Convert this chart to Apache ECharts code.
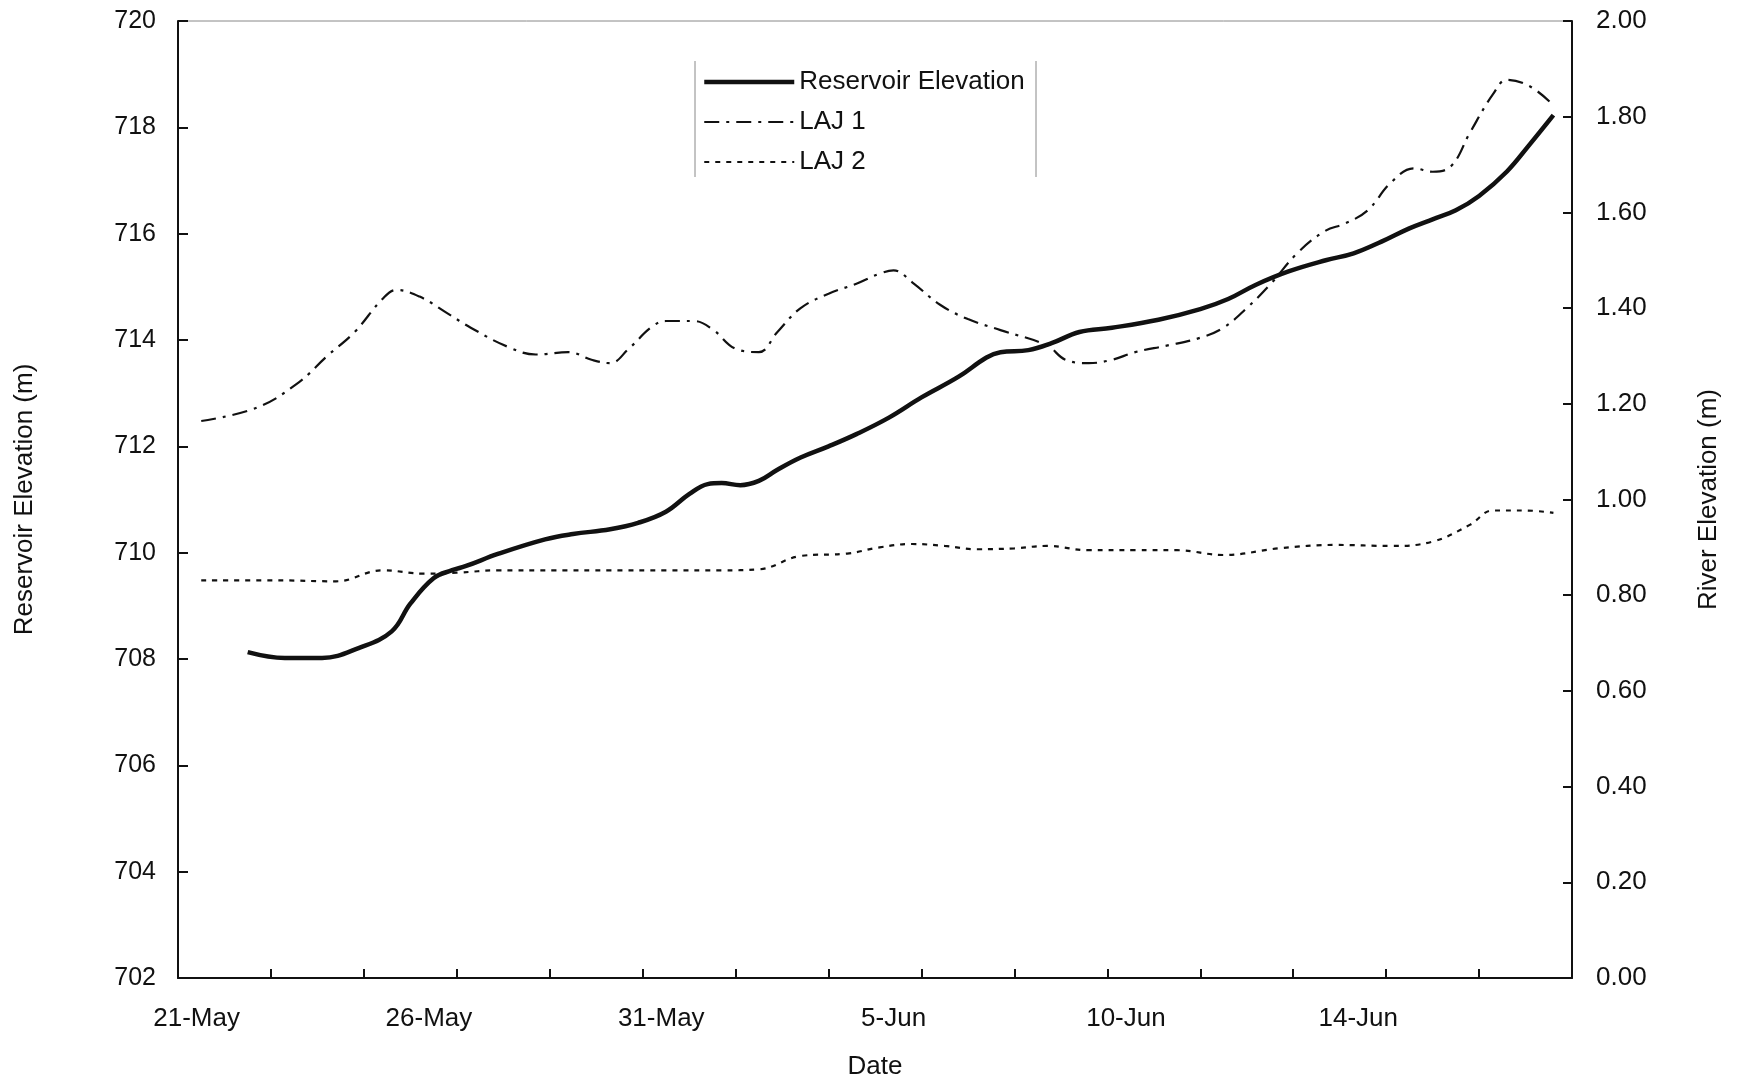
<!DOCTYPE html>
<html>
<head>
<meta charset="utf-8">
<script src="https://cdn.jsdelivr.net/npm/echarts@6/dist/echarts.min.js"></script>
<style>
  html, body { margin: 0; padding: 0; background: #fff; }
  #chart { width: 1739px; height: 1080px; }
</style>
</head>
<body>
<div id="chart"></div>
<script>
// x positions are days after 21-May (label position)
const xStart = -0.4;
const xStep = 0.1;
const xSteps = 300;

const dateLabels = ["21-May", "26-May", "31-May", "5-Jun", "10-Jun", "14-Jun"];
const dateLabelDays = [0, 5, 10, 15, 20, 25];

const resDays = [1.08, 1.87, 2.71, 3.55, 4.15, 4.63, 5.11, 5.47, 5.82, 6.54, 7.5, 8.1, 8.94, 9.54, 10.13, 10.61, 10.97, 11.33, 11.69, 12.05, 12.53, 13.0, 13.6, 14.2, 14.92, 15.64, 16.36, 16.96, 17.32, 17.91, 18.39, 18.99, 19.71, 20.67, 21.63, 22.22, 22.82, 23.54, 24.26, 24.86, 25.46, 26.05, 26.65, 27.13, 27.61, 28.21, 28.69, 29.21];
const resVals = [708.13, 708.02, 708.02, 708.21, 708.52, 709.04, 709.52, 709.67, 709.75, 709.98, 710.25, 710.35, 710.44, 710.56, 710.77, 711.1, 711.29, 711.31, 711.27, 711.35, 711.56, 711.79, 712.0, 712.23, 712.54, 712.92, 713.31, 713.67, 713.77, 713.81, 713.94, 714.15, 714.23, 714.38, 714.58, 714.77, 715.04, 715.29, 715.5, 715.63, 715.85, 716.1, 716.27, 716.44, 716.71, 717.17, 717.69, 718.23];

const laj1Days = [0.08, 1.28, 2.23, 2.83, 3.43, 4.03, 4.27, 4.75, 5.35, 5.94, 6.66, 7.26, 7.98, 8.46, 8.94, 9.3, 9.77, 10.13, 10.73, 11.09, 11.57, 12.05, 12.53, 13.0, 13.6, 14.2, 14.68, 15.04, 15.4, 16.0, 16.6, 17.32, 18.27, 18.75, 19.23, 19.71, 20.19, 20.91, 21.63, 22.1, 22.58, 23.06, 23.66, 24.26, 24.74, 25.22, 25.7, 26.17, 26.65, 27.01, 27.37, 27.85, 28.21, 28.69, 29.17];
const laj1Vals = [1.164, 1.192, 1.245, 1.299, 1.35, 1.419, 1.438, 1.424, 1.389, 1.359, 1.319, 1.303, 1.308, 1.292, 1.285, 1.315, 1.361, 1.373, 1.373, 1.356, 1.315, 1.308, 1.35, 1.4, 1.43, 1.451, 1.472, 1.479, 1.454, 1.407, 1.377, 1.354, 1.322, 1.292, 1.285, 1.292, 1.308, 1.322, 1.338, 1.359, 1.4, 1.449, 1.516, 1.562, 1.576, 1.604, 1.662, 1.692, 1.685, 1.697, 1.766, 1.847, 1.877, 1.863, 1.824];

const laj2Days = [0.08, 1.75, 2.95, 4.03, 4.87, 5.59, 6.54, 7.74, 8.94, 10.13, 11.33, 12.05, 13.0, 13.96, 14.68, 15.4, 16.12, 16.84, 17.56, 18.27, 19.23, 20.19, 21.15, 22.1, 23.3, 24.5, 25.7, 26.65, 27.37, 27.85, 28.57, 29.21];
const laj2Vals = [0.831, 0.831, 0.829, 0.852, 0.845, 0.847, 0.852, 0.852, 0.852, 0.852, 0.852, 0.854, 0.882, 0.887, 0.9, 0.907, 0.903, 0.896, 0.898, 0.903, 0.894, 0.894, 0.894, 0.884, 0.898, 0.905, 0.903, 0.912, 0.947, 0.977, 0.977, 0.972];

const cats = Array.from({ length: xSteps + 1 }, (_, i) => (xStart + i * xStep).toFixed(1));
const toIdx = (d) => Math.round((d - xStart) / xStep);
const labelIdx = dateLabelDays.map(toIdx);
const pair = (days, vals) => days.map((d, i) => [toIdx(d), vals[i]]);

const font = "Liberation Sans, Arial, Helvetica, sans-serif";
const black = "#111";
const resStyle = { color: black, width: 4.5 };
const laj1Style = { color: black, width: 2.2, type: [15, 7, 3, 7] };
const laj2Style = { color: black, width: 2.2, type: [5, 6] };

const chart = echarts.init(document.getElementById("chart"));
chart.setOption({
  backgroundColor: "#fff",
  animation: false,
  textStyle: { fontFamily: font, color: black },
  grid: {
    left: 178, right: 167, top: 21, bottom: 102,
    outerBoundsMode: "none",
    show: true, borderColor: "#888", borderWidth: 1
  },
  legend: {
    orient: "vertical",
    left: 702,
    top: 69,
    padding: 0,
    itemWidth: 90,
    itemHeight: 14,
    itemGap: 14,
    itemStyle: { color: "transparent", borderWidth: 0, opacity: 0 },
    textStyle: { fontSize: 26, color: black, fontFamily: font },
    data: [
      { name: "Reservoir Elevation", lineStyle: resStyle },
      { name: "LAJ 1", lineStyle: laj1Style },
      { name: "LAJ 2", lineStyle: laj2Style }
    ]
  },
  graphic: [
    { type: "line", shape: { x1: 695, y1: 61, x2: 695, y2: 177 }, style: { stroke: "#888", lineWidth: 1 } },
    { type: "line", shape: { x1: 1036, y1: 61, x2: 1036, y2: 177 }, style: { stroke: "#888", lineWidth: 1 } }
  ],
  xAxis: {
    type: "category",
    data: cats,
    boundaryGap: false,
    name: "Date",
    nameLocation: "middle",
    nameGap: 76,
    nameTextStyle: { fontSize: 26, color: black },
    axisLine: { lineStyle: { color: black, width: 2 } },
    axisTick: {
      inside: true, length: 9,
      interval: (i) => i % 20 === 0,
      lineStyle: { color: black, width: 2 }
    },
    axisLabel: {
      interval: (i) => labelIdx.includes(i),
      formatter: (v, i) => {
        const k = labelIdx.indexOf(i);
        return k >= 0 ? dateLabels[k] : "";
      },
      margin: 28,
      fontSize: 26,
      color: black
    },
    splitLine: { show: false }
  },
  yAxis: [
    {
      type: "value",
      min: 702, max: 720, interval: 2,
      name: "Reservoir Elevation (m)",
      nameLocation: "middle",
      nameRotate: 90,
      nameGap: 140,
      nameTextStyle: { fontSize: 26, color: black },
      axisLine: { show: true, lineStyle: { color: black, width: 2 } },
      axisTick: { show: true, inside: true, length: 10, lineStyle: { color: black, width: 2 } },
      axisLabel: { margin: 22, fontSize: 25, color: black },
      splitLine: { show: false }
    },
    {
      type: "value",
      min: 0, max: 2, interval: 0.2,
      position: "right",
      name: "River Elevation (m)",
      nameLocation: "middle",
      nameRotate: 90,
      nameGap: 124,
      nameTextStyle: { fontSize: 26, color: black },
      axisLine: { show: true, lineStyle: { color: black, width: 2 } },
      axisTick: { show: true, inside: true, length: 9, lineStyle: { color: black, width: 2 } },
      axisLabel: { margin: 24, fontSize: 26, color: black, formatter: (v) => v.toFixed(2) },
      splitLine: { show: false }
    }
  ],
  series: [
    {
      name: "Reservoir Elevation",
      type: "line",
      yAxisIndex: 0,
      smooth: 0.4,
      symbol: "none",
      data: pair(resDays, resVals),
      lineStyle: resStyle,
      itemStyle: { color: black },
      z: 3
    },
    {
      name: "LAJ 1",
      type: "line",
      yAxisIndex: 1,
      smooth: 0.4,
      symbol: "none",
      data: pair(laj1Days, laj1Vals),
      lineStyle: laj1Style,
      itemStyle: { color: black }
    },
    {
      name: "LAJ 2",
      type: "line",
      yAxisIndex: 1,
      smooth: 0.4,
      symbol: "none",
      data: pair(laj2Days, laj2Vals),
      lineStyle: laj2Style,
      itemStyle: { color: black }
    }
  ]
});
window.addEventListener("resize", () => chart.resize());
</script>
</body>
</html>
